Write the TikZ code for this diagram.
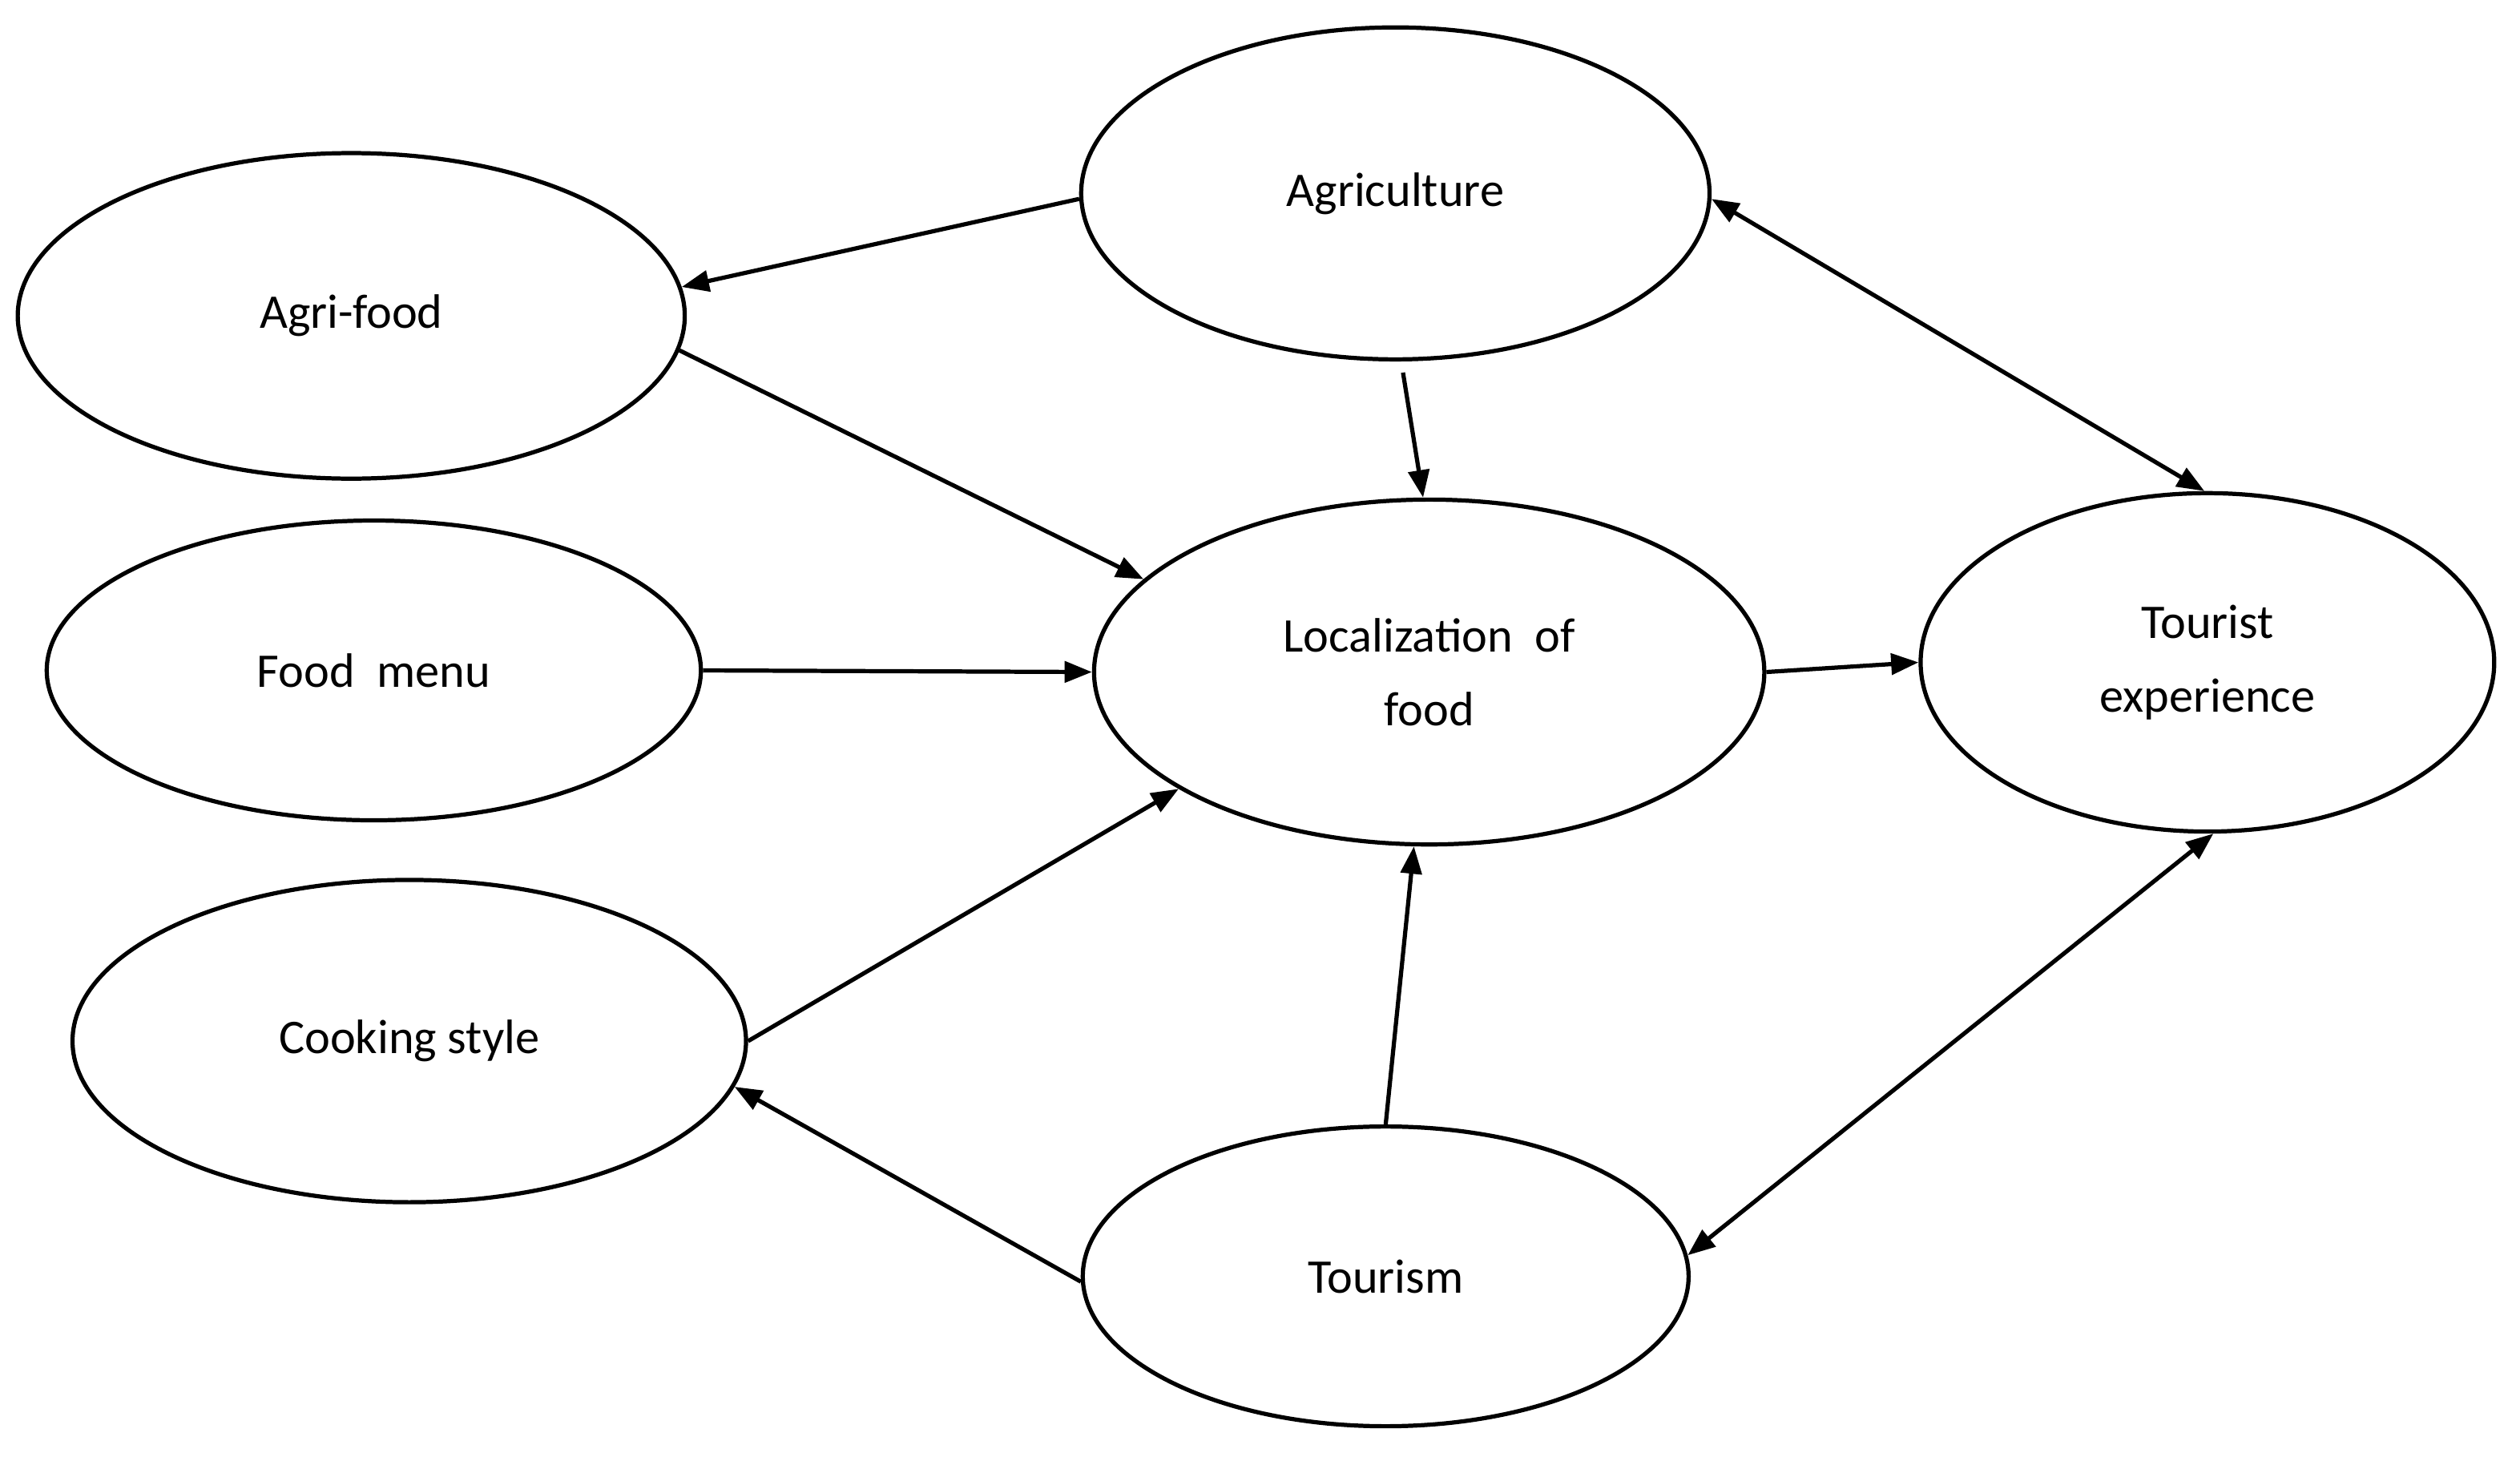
\documentclass[tikz,border=0pt]{standalone}
\usepackage{fontspec}
\setmainfont{Carlito}
\usetikzlibrary{shapes.geometric,arrows.meta}
\begin{document}
\begin{tikzpicture}[x=1pt,y=-1pt,
  ell/.style={ellipse,draw,line width=2.6pt,inner sep=0pt,align=center,font=\fontsize{30}{46}\selectfont},
  arr/.style={line width=2.6pt,-{Triangle[length=17pt,width=13pt]}},
  darr/.style={line width=2.6pt,{Triangle[length=17pt,width=13pt]}-{Triangle[length=17pt,width=13pt]}}]
\useasboundingbox (0,0) rectangle (1564,904);
\node[ell,minimum width=390pt,minimum height=206pt] (agr) at (866,120) {Agriculture};
\node[ell,minimum width=414pt,minimum height=202pt] (af) at (218,196) {Agri-food};
\node[ell,minimum width=406pt,minimum height=186pt] (fm) at (232,416) {Food\ \ menu};
\node[ell,minimum width=418pt,minimum height=200pt] (cs) at (254,646) {Cooking\ style};
\node[ell,minimum width=416pt,minimum height=214pt] (loc) at (887,417) {Localization\ \ of\\food};
\node[ell,minimum width=356pt,minimum height=210pt] (te) at (1370,411) {Tourist\\experience};
\node[ell,minimum width=376pt,minimum height=186pt] (tou) at (860,792) {Tourism};
\draw[arr] (agr.181) -- (af.5);
\draw[arr] (af.354) -- (loc.162);
\draw[arr,shorten <=7pt] (agr.272) -- (loc.92);
\draw[arr] (fm.0) -- (loc.180);
\draw[arr] (loc.0) -- (te.180);
\draw[darr] (agr.359) -- (te.91);
\draw[arr] (tou.181.5) -- (cs.352.6);
\draw[arr] (cs.0) -- (loc.205);
\draw[arr] (tou.90) -- (loc.265);
\draw[darr] (te.272) -- (tou.4);
\end{tikzpicture}
\end{document}
